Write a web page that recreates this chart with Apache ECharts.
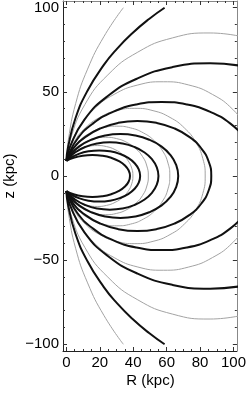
<!DOCTYPE html>
<html><head><meta charset="utf-8">
<script src="https://cdn.jsdelivr.net/npm/echarts@6/dist/echarts.min.js"></script>
<style>html,body{margin:0;padding:0;background:#fff}#c{width:249px;height:393px}</style>
</head><body><div id="c"></div>
<script>
// Tick positions / labels
const xMajor = [0, 20, 40, 60, 80, 100];
const xMinor = [0,5,10,15,20,25,30,35,40,45,50,55,60,65,70,75,80,85,90,95,100];
const yMajor = [-100, -50, 0, 50, 100];
const yMinor = [-100,-90,-80,-70,-60,-50,-40,-30,-20,-10,0,10,20,30,40,50,60,70,80,90,100];

// Upper-half traces [R, z] (kpc).
// Closed loops start on the midplane (outer crossing) and end at the axis point (0, 9).
// Open curves start at the axis point (0, 9) and run out of the frame.
const thick1 = [[0,9],[1.06,17.23],[5.41,34.16],[12.57,50.51],[22.43,66],[30.41,75.71],[39.47,84.85],[49.51,93.34],[58.78,100]];
const thick2 = [[0,9],[2.17,17.34],[10.84,33.5],[24.63,47.38],[42.61,58.02],[63.54,64.72],[86,67],[108.46,64.72]];
const thick3 = [[0,9],[0.76,11.39],[6.57,22],[15.83,31.11],[27.88,38.1],[41.93,42.5],[57,44],[72.07,42.5],[86.12,38.1],[98.17,31.11],[107.43,22]];
const thick4 = [[86.71,0],[85.2,8.46],[80.79,16.35],[73.76,23.12],[64.61,28.32],[53.94,31.59],[42.5,32.7],[31.06,31.59],[20.39,28.32],[11.24,23.12],[4.21,16.35],[0,9]];
const thick5 = [[66.94,0],[65.76,6.44],[62.3,12.45],[56.79,17.61],[49.62,21.56],[41.26,24.05],[32.3,24.9],[23.34,24.05],[14.98,21.56],[7.81,17.61],[2.3,12.45],[0,9]];
const thick6 = [[55.11,0],[54.12,5.18],[51.21,10],[46.58,14.14],[40.56,17.32],[33.53,19.32],[26,20],[18.47,19.32],[11.44,17.32],[5.42,14.14],[0.79,10],[0,9]];
const thick7 = [[44.15,0],[43.32,3.93],[40.87,7.6],[36.99,10.75],[31.93,13.16],[26.03,14.68],[19.7,15.2],[13.37,14.68],[7.47,13.16],[2.41,10.75],[0,9]];
const thick8 = [[38.08,0],[37.31,3.24],[35.07,6.25],[31.5,8.84],[26.84,10.83],[21.42,12.07],[15.6,12.5],[9.78,12.07],[4.36,10.83],[0,9]];
const thin1 = [[0,9],[0.17,11.58],[1.21,21.66],[5.55,42.96],[12.71,63.52],[22.56,83],[34.1,100]];
const thin2 = [[0,9],[0.25,11.09],[2.46,22.0],[11.1,42.5],[24.84,60.1],[42.76,73.61],[63.62,82.1],[86,85],[108.38,82.1]];
const thin3 = [[0,9],[1.24,14.49],[7.11,28],[16.45,39.6],[28.62,48.5],[42.79,54.09],[58,56],[73.21,54.09],[87.38,48.5],[99.55,39.6],[108.89,28]];
const thin5 = [[83.07,0],[81.64,10.4],[77.43,20.1],[70.75,28.43],[62.04,34.81],[51.89,38.83],[41,40.2],[30.11,38.83],[19.96,34.81],[11.25,28.43],[4.57,20.1],[0.36,10.4],[0,9]];
const thin6 = [[61.9,0],[60.82,7.66],[57.65,14.8],[52.62,20.93],[46.05,25.63],[38.4,28.59],[30.2,29.6],[22.0,28.59],[14.35,25.63],[7.78,20.93],[2.75,14.8],[0,9]];
const thin7 = [[49.04,0],[48.17,5.95],[45.62,11.5],[41.56,16.26],[36.27,19.92],[30.11,22.22],[23.5,23],[16.89,22.22],[10.73,19.92],[5.44,16.26],[1.38,11.5],[0,9]];
const thin8 = [[39.82,0],[39.09,4.68],[36.96,9.05],[33.58,12.8],[29.16,15.67],[24.02,17.48],[18.5,18.1],[12.98,17.48],[7.84,15.67],[3.42,12.8],[0,9]];

const thickOpen = [thick1, thick2, thick3];
const thickClosed = [thick4, thick5, thick6, thick7, thick8];
const thinOpen = [thin1, thin2, thin3];
const thinClosed = [thin5, thin6, thin7, thin8];

// the figure is symmetric about z = 0
const mirror = up => up.map(p => [p[0], -p[1]]);
const closedCurve = up => mirror(up).reverse().concat(up.slice(1));

const FONT = 'Liberation Sans, Arial, Helvetica, sans-serif';
const X_MIN = -2, X_MAX = 102, Y_MIN = -104, Y_MAX = 104;

function xAx(pos, vals, len, showLine, showLabel, lineColor) {
  return {
    type: 'value', position: pos, min: X_MIN, max: X_MAX,
    axisLine: { show: showLine, onZero: false, lineStyle: { color: lineColor, width: 1 } },
    axisTick: { show: true, inside: true, length: len, customValues: vals, lineStyle: { color: '#333', width: 1 } },
    axisLabel: { show: showLabel, customValues: vals, color: '#000', fontFamily: FONT, fontSize: 15, margin: 4 },
    splitLine: { show: false }
  };
}
function yAx(pos, vals, len, showLine, showLabel, lineColor) {
  return {
    type: 'value', position: pos, min: Y_MIN, max: Y_MAX,
    axisLine: { show: showLine, onZero: false, lineStyle: { color: lineColor, width: 1 } },
    axisTick: { show: true, inside: true, length: len, customValues: vals, lineStyle: { color: '#333', width: 1 } },
    axisLabel: { show: showLabel, customValues: vals, color: '#000', fontFamily: FONT, fontSize: 15, margin: 4,
      formatter: v => (v < 0 ? '\u2212' + Math.abs(v) : String(v)) },
    splitLine: { show: false }
  };
}

const thinStyle = { color: '#a3a3a3', width: 1 };
const thickStyle = { color: '#111', width: 2 };
function lineSeries(data, style) {
  return { type: 'line', data: data, xAxisIndex: 0, yAxisIndex: 0, smooth: 0.5,
    symbol: 'none', clip: true, silent: true, lineStyle: style };
}
const series = [];
thinOpen.forEach(c => { series.push(lineSeries(c, thinStyle)); series.push(lineSeries(mirror(c), thinStyle)); });
thinClosed.forEach(c => series.push(lineSeries(closedCurve(c), thinStyle)));
thickOpen.forEach(c => { series.push(lineSeries(c, thickStyle)); series.push(lineSeries(mirror(c), thickStyle)); });
thickClosed.forEach(c => series.push(lineSeries(closedCurve(c), thickStyle)));

const chart = echarts.init(document.getElementById('c'), null, { renderer: 'canvas' });
chart.setOption({
  animation: false,
  backgroundColor: '#fff',
  grid: { left: 63, right: 11, top: 1, bottom: 42, containLabel: false },
  xAxis: [
    xAx('bottom', xMajor, 4, true, true, '#222'),
    xAx('bottom', xMinor, 2, false, false, '#222'),
    xAx('top', xMajor, 4, true, false, '#888'),
    xAx('top', xMinor, 2, false, false, '#888')
  ],
  yAxis: [
    yAx('left', yMajor, 4, true, true, '#222'),
    yAx('left', yMinor, 2, false, false, '#222'),
    yAx('right', yMajor, 4, true, false, '#888'),
    yAx('right', yMinor, 2, false, false, '#888')
  ],
  series: series,
  graphic: [
    { type: 'text', x: 150.5, y: 381,
      style: { text: 'R (kpc)', font: '15px ' + FONT, fill: '#000', align: 'center', verticalAlign: 'middle' } },
    { type: 'text', x: 10, y: 176, rotation: Math.PI / 2,
      style: { text: 'z (kpc)', font: '15px ' + FONT, fill: '#000', align: 'center', verticalAlign: 'middle' } }
  ]
});
</script></body></html>
